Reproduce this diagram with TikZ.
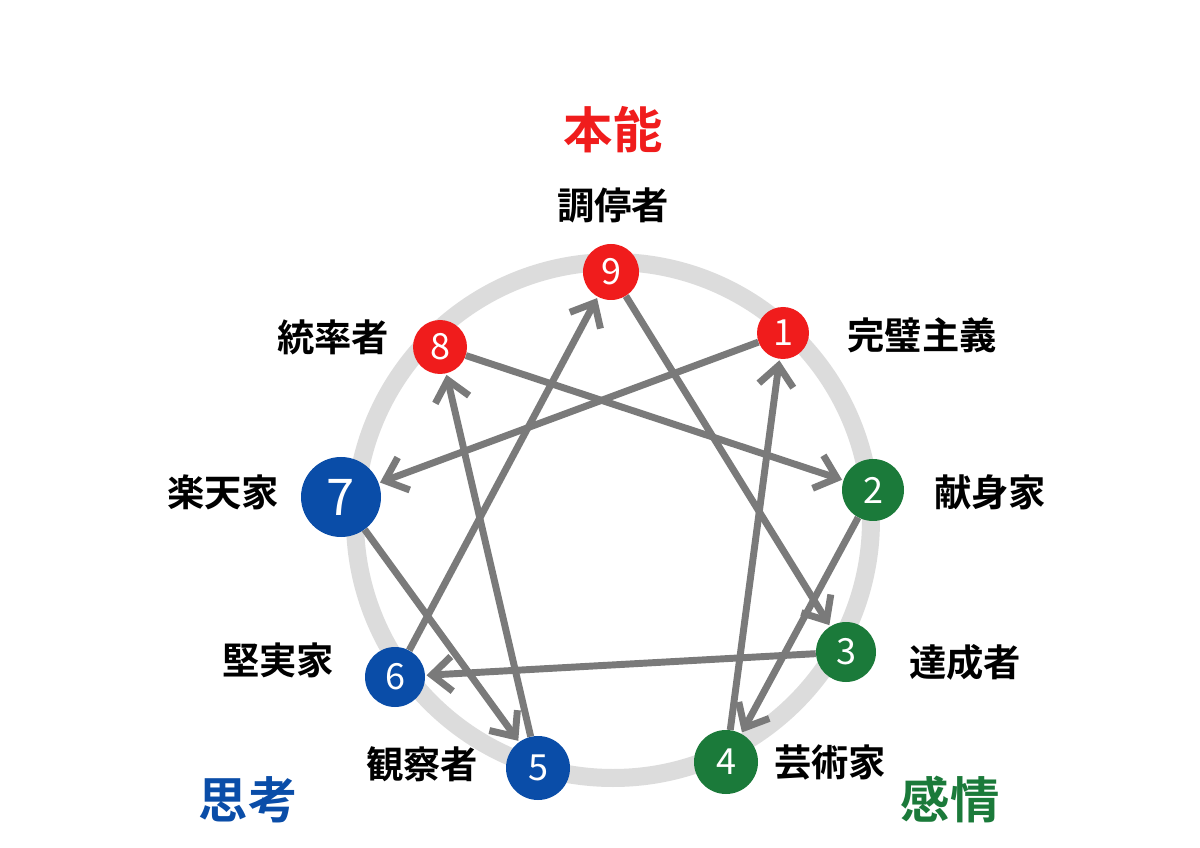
\documentclass[tikz,border=0pt]{standalone}
\usepackage{fontspec}
\setmainfont{Noto Sans CJK JP}[BoldFont={Noto Sans CJK JP Bold}]
\usetikzlibrary{arrows.meta}
\definecolor{cr}{HTML}{F01C1C}
\definecolor{cg}{HTML}{1B7A3A}
\definecolor{cb}{HTML}{0A4DA8}
\definecolor{ln}{HTML}{7A7A7A}
\definecolor{rg}{HTML}{DCDCDC}
\begin{document}
\begin{tikzpicture}[x=0.75pt,y=-0.75pt,
  num/.style={circle,inner sep=0pt,minimum size=#1*1.5pt,text=white,font=\fontsize{27}{27}\selectfont},
  lab/.style={font=\bfseries\fontsize{28}{28}\selectfont},
  ttl/.style={font=\bfseries\fontsize{37}{37}\selectfont},
  ar/.style={draw=ln,line width=5.2pt,-{Straight Barb[length=15pt,width=26pt,line width=5.2pt]},shorten >=1pt}]
\useasboundingbox (0,0) rectangle (1200,848);
\fill[white] (0,0) rectangle (1200,848);
\coordinate (c) at (613,520);
\draw[rg,line width=13.5pt] (c) circle[radius=258*0.75pt];
\node[num=28,fill=cr] (n9) at (611,272) {9};
\node[num=26,fill=cr] (n1) at (783,333) {1};
\node[num=27,fill=cr] (n8) at (440,347) {8};
\node[num=31,fill=cg] (n2) at (873,490) {2};
\node[num=40,fill=cb,font=\fontsize{38}{38}\selectfont] (n7) at (341,497) {7};
\node[num=30,fill=cg] (n3) at (846,652) {3};
\node[num=30,fill=cb] (n6) at (395,677) {6};
\node[num=32,fill=cg] (n4) at (726,762) {4};
\node[num=32,fill=cb] (n5) at (538,768) {5};
\begin{scope}[on background layer/.style={}]
\end{scope}
\draw[ar] (n1) -- (n7);
\draw[ar] (n7) -- (n5);
\draw[ar] (n5) -- (n8);
\draw[ar] (n8) -- (n2);
\draw[ar] (n2) -- (n4);
\draw[ar] (n4) -- (n1);
\draw[ar] (n9) -- (n3);
\draw[ar] (n3) -- (n6);
\draw[ar] (n6) -- (n9);
\node[lab] (l9) at (613,205) {調停者};
\node[lab] (l8) at (333,337) {統率者};
\node[lab] (l1) at (922,335) {完璧主義};
\node[lab] (l7) at (223,492) {楽天家};
\node[lab] (l2) at (990,492) {献身家};
\node[lab] (l6) at (278,660) {堅実家};
\node[lab] (l3) at (965,662) {達成者};
\node[lab] (l5) at (422,764) {観察者};
\node[lab] (l4) at (830,762) {芸術家};
\node[ttl,text=cr] (t1) at (613,130) {本能};
\node[ttl,text=cb] (t2) at (248,800) {思考};
\node[ttl,text=cg] (t3) at (950,800) {感情};
\end{tikzpicture}
\end{document}
